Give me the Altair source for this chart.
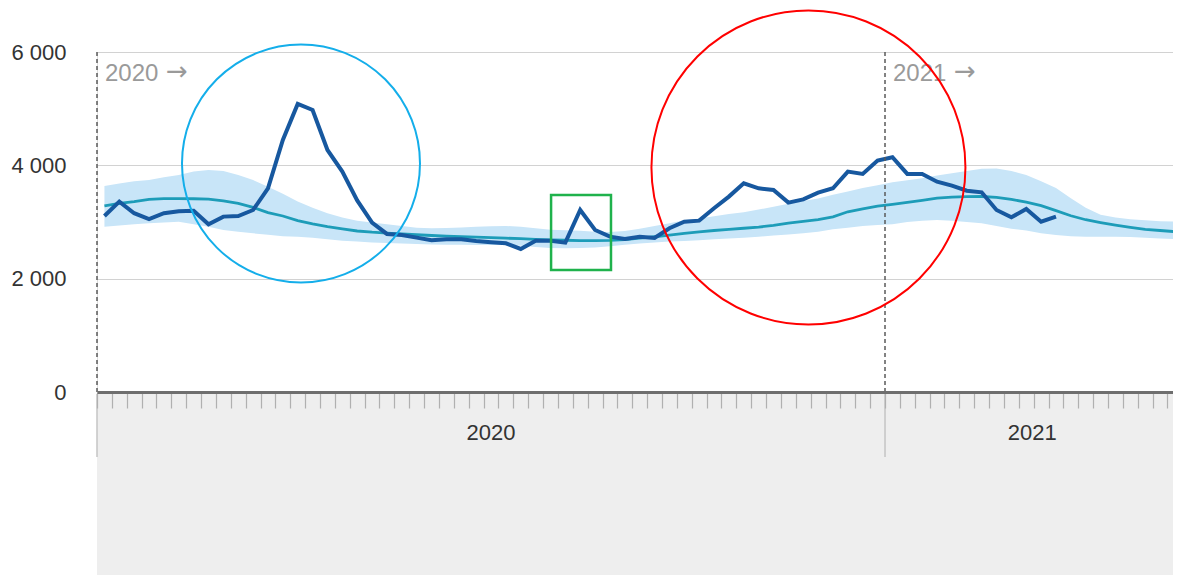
import altair as alt
import pandas as pd

# ---------------- data ----------------
weeks_2020 = list(range(1, 54))
weeks_2021 = list(range(1, 21))

actual_2020 = [3106, 3360, 3155, 3050, 3155, 3190, 3200, 2960, 3095, 3106,
               3212, 3595, 4448, 5083, 4977, 4271, 3889, 3380, 2988, 2789,
               2771, 2724, 2677, 2695, 2695, 2665, 2642, 2624, 2524, 2671,
               2671, 2636, 3212, 2859, 2741, 2700, 2741, 2718, 2889, 3006,
               3024, 3242, 3448, 3683, 3595, 3565, 3342, 3400, 3518, 3595,
               3889, 3848, 4083]
actual_2021 = [4142, 3848, 3848, 3712, 3642, 3553, 3524, 3212, 3083, 3230,
               3006, 3095]

expected_2020 = [3283, 3330, 3359, 3400, 3412, 3412, 3410, 3405, 3371, 3330,
                 3259, 3165, 3106, 3024, 2965, 2918, 2877, 2841, 2820, 2805,
                 2790, 2775, 2762, 2750, 2740, 2732, 2725, 2715, 2705, 2695,
                 2685, 2678, 2672, 2670, 2675, 2690, 2715, 2740, 2770, 2800,
                 2825, 2850, 2870, 2890, 2910, 2940, 2980, 3010, 3040, 3090,
                 3180, 3230, 3280]
expected_2021 = [3310, 3345, 3380, 3420, 3440, 3448, 3450, 3436, 3400, 3350,
                 3290, 3200, 3110, 3040, 2990, 2945, 2905, 2870, 2850, 2830]

upper_2020 = [3636, 3680, 3720, 3742, 3790, 3830, 3890, 3918, 3900, 3830,
              3740, 3620, 3500, 3360, 3250, 3154, 3080, 3020, 2990, 2960,
              2930, 2900, 2890, 2895, 2905, 2915, 2925, 2930, 2915, 2890,
              2865, 2855, 2845, 2830, 2825, 2840, 2880, 2930, 2980, 3030,
              3060, 3100, 3140, 3170, 3220, 3270, 3320, 3370, 3415, 3480,
              3540, 3600, 3650]
upper_2021 = [3700, 3735, 3770, 3820, 3860, 3900, 3940, 3945, 3900, 3830,
              3720, 3600, 3420, 3250, 3130, 3080, 3050, 3030, 3015, 3006]

lower_2020 = [2918, 2940, 2960, 2977, 2990, 3006, 2960, 2918, 2860, 2830,
              2800, 2775, 2750, 2740, 2720, 2694, 2670, 2655, 2640, 2630,
              2620, 2612, 2605, 2600, 2598, 2595, 2594, 2594, 2580, 2560,
              2540, 2536, 2540, 2550, 2570, 2600, 2620, 2640, 2655, 2665,
              2680, 2695, 2710, 2720, 2740, 2760, 2780, 2800, 2830, 2870,
              2900, 2930, 2945]
lower_2021 = [2960, 3000, 3020, 3036, 3020, 3000, 2977, 2930, 2880, 2850,
              2800, 2771, 2750, 2741, 2741, 2741, 2735, 2720, 2710, 2700]

year_names = ["2020", "2021"]
y_ticks = [0, 2000, 4000, 6000]

# annotation shapes (hand-drawn marks in the reference)
circle_x = [14.22, 48.35]
circle_y = [4033, 3962]
circle_size = [56644, 98596]      # (diameter px)^2
circle_color = ["#14aeea", "#ff0000"]
box_x = [31.04]
box_x2 = [35.07]
box_y = [2153]
box_y2 = [3477]

# ---------------- tables ----------------
n20 = len(weeks_2020)
rows = []
for i, w in enumerate(weeks_2020):
    rows.append({"idx": i + 1, "year": "2020", "week": w,
                 "expected": expected_2020[i], "upper": upper_2020[i],
                 "lower": lower_2020[i],
                 "actual": actual_2020[i] if i < len(actual_2020) else None})
for i, w in enumerate(weeks_2021):
    rows.append({"idx": n20 + i + 1, "year": "2021", "week": w,
                 "expected": expected_2021[i], "upper": upper_2021[i],
                 "lower": lower_2021[i],
                 "actual": actual_2021[i] if i < len(actual_2021) else None})
df = pd.DataFrame(rows)
df_act = df.dropna(subset=["actual"])

n_all = n20 + len(weeks_2021)
bounds = [0.5, n20 + 0.5]
df_bounds = pd.DataFrame({"x": bounds, "label": year_names})
df_years = pd.DataFrame({"x": [(0.5 + n20 + 0.5) / 2, (n20 + 0.5 + n_all + 0.3) / 2],
                         "label": year_names})
tick_vals = [i + 0.5 for i in range(0, n_all)]

df_circ = pd.DataFrame({"x": circle_x, "y": circle_y, "size": circle_size,
                        "color": circle_color})
df_box = pd.DataFrame({"x": box_x, "x2": box_x2, "y": box_y, "y2": box_y2})

W, H = 1076, 340
STEP = 14.868                       # px per week
FONT = "Liberation Sans"

xs = alt.Scale(domain=[0.5, 0.5 + W / STEP], nice=False, zero=False)
ys = alt.Scale(domain=[0, 6000], nice=False)

x_axis = alt.Axis(values=tick_vals, tickCount=500, labels=False, title=None,
                  grid=False, domainColor="#6e6e6e", domainWidth=3,
                  tickColor="#b0b0b0", tickSize=16, tickWidth=1.2, zindex=1)
y_axis = alt.Axis(values=y_ticks, tickCount=500, title=None, grid=True,
                  gridColor="#d2d2d2", gridWidth=1, domain=False, ticks=False,
                  labelPadding=31, labelFontSize=22, labelColor="#333333",
                  labelFont=FONT,
                  labelExpr="replace(format(datum.value, ','), ',', ' ')")

base = alt.Chart(df)

bg = alt.Chart(pd.DataFrame({"a": [1]})).mark_rect(color="#eeeeee").encode(
    x=alt.value(0), x2=alt.value(W), y=alt.value(H), y2=alt.value(H + 190))

band = base.mark_area(color="#c8e5f8", opacity=1).encode(
    x=alt.X("idx:Q", scale=xs, axis=x_axis),
    y=alt.Y("lower:Q", scale=ys, axis=y_axis),
    y2="upper:Q")

exp_line = base.mark_line(color="#1d9cb8", strokeWidth=2.8).encode(
    x=alt.X("idx:Q", scale=xs), y=alt.Y("expected:Q", scale=ys))

act_line = alt.Chart(df_act).mark_line(color="#17589f", strokeWidth=4).encode(
    x=alt.X("idx:Q", scale=xs), y=alt.Y("actual:Q", scale=ys))

dash = alt.Chart(df_bounds).mark_rule(color="#5a5a5a", strokeDash=[4, 3],
                                      strokeWidth=1.5).encode(
    x=alt.X("x:Q", scale=xs), y=alt.value(0), y2=alt.value(H))

divider = alt.Chart(df_bounds).mark_rule(color="#c4c4c4", strokeWidth=1.5).encode(
    x=alt.X("x:Q", scale=xs), y=alt.value(H + 2), y2=alt.value(H + 65))

year_tags = alt.Chart(df_bounds).mark_text(align="left", baseline="alphabetic",
                                           dx=8, fontSize=24, font=FONT,
                                           color="#9a9a9a").encode(
    x=alt.X("x:Q", scale=xs), y=alt.value(29), text="label:N")

arrow_tags = alt.Chart(df_bounds).mark_text(align="left", baseline="alphabetic",
                                            dx=69, fontSize=26,
                                            font="DejaVu Sans",
                                            color="#9a9a9a").encode(
    x=alt.X("x:Q", scale=xs), y=alt.value(28), text=alt.value("→"))

years = alt.Chart(df_years).mark_text(align="center", baseline="middle",
                                      fontSize=22, font=FONT,
                                      color="#333333").encode(
    x=alt.X("x:Q", scale=xs), y=alt.value(H + 41), text="label:N")

circles = alt.Chart(df_circ).mark_point(shape="circle", filled=False,
                                        strokeWidth=2, opacity=1).encode(
    x=alt.X("x:Q", scale=xs), y=alt.Y("y:Q", scale=ys),
    size=alt.Size("size:Q", scale=None),
    stroke=alt.Color("color:N", scale=None))

box = alt.Chart(df_box).mark_rect(fillOpacity=0, stroke="#1fb24c",
                                  strokeWidth=2.5).encode(
    x=alt.X("x:Q", scale=xs), x2="x2:Q",
    y=alt.Y("y:Q", scale=ys), y2="y2:Q")

chart = alt.layer(bg, band, exp_line, act_line, dash, divider, year_tags,
                  arrow_tags, years, circles, box).properties(
    width=W, height=H,
    autosize=alt.AutoSizeParams(type="none"),
    padding={"left": 89, "top": 44, "right": 0, "bottom": 183},
).configure_view(stroke=None).configure(background="white")

chart.save("out.html", embed_options={"renderer": "svg", "actions": False})
